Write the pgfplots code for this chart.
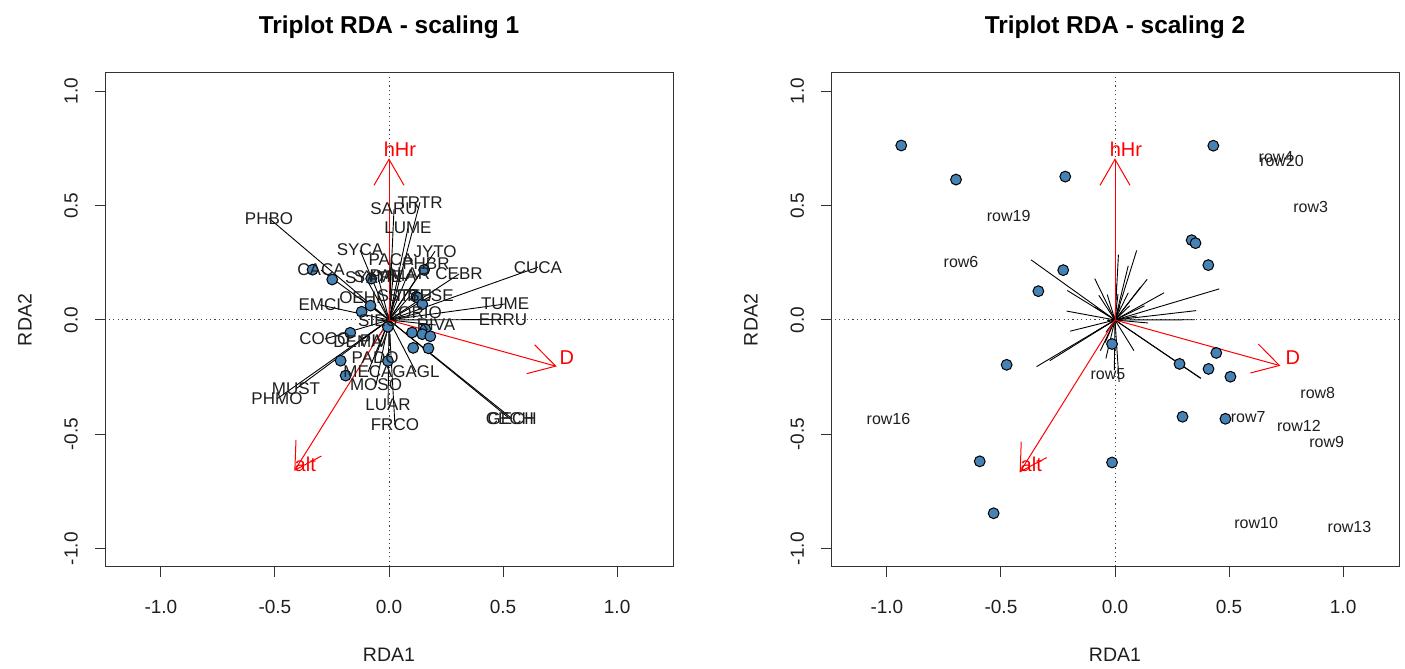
\documentclass[border=0pt]{standalone}
\usepackage{fontspec}
\setmainfont{Liberation Sans}
\usepackage{pgfplots}
\pgfplotsset{compat=1.18}
\usepackage{pgfplotstable}
\usetikzlibrary{arrows.meta}
\definecolor{ptblue}{HTML}{4682B4}
\definecolor{txt}{HTML}{1E1E1E}

% site scores, scaling 1
\pgfplotstableread{
x y
-0.335 0.220
-0.249 0.177
-0.078 0.181
0.154 0.219
0.120 0.101
0.126 0.097
0.146 0.069
-0.081 0.063
-0.120 0.036
-0.005 -0.030
-0.170 -0.056
0.101 -0.055
0.159 -0.041
0.146 -0.062
0.181 -0.071
0.106 -0.122
0.173 -0.124
-0.212 -0.178
-0.005 -0.179
-0.190 -0.243
}\sitesA

% species scores, scaling 1
\pgfplotstableread{
x y lab
-0.526 0.445 PHBO
0.136 0.515 TRTR
0.022 0.485 SARU
0.083 0.402 LUME
-0.127 0.306 SYCA
0.202 0.301 JYTO
0.009 0.262 PACA
0.162 0.245 PHBR
-0.298 0.218 CACA
-0.101 0.183 SYAT
-0.048 0.188 SYME
0.018 0.192 PAMA
0.083 0.201 ALAR
0.307 0.201 CEBR
0.653 0.231 CUCA
-0.303 0.066 EMCI
-0.127 0.096 OEHI
0.031 0.105 SITT
0.092 0.105 STTU
0.184 0.105 SESE
0.509 0.070 TUME
0.500 0.002 ERRU
0.136 0.031 ORIO
-0.048 -0.004 SIEU
0.206 -0.022 RIVA
-0.281 -0.083 COCO
-0.136 -0.096 DEMA
-0.057 -0.092 PIVI
-0.061 -0.166 PADO
-0.092 -0.227 MECA
0.118 -0.227 GAGL
-0.057 -0.284 MOSO
-0.004 -0.371 LUAR
0.026 -0.459 FRCO
-0.408 -0.301 MUST
-0.491 -0.345 PHMO
0.540 -0.432 GECH
0.530 -0.432 CECH
}\speciesA

% site scores, scaling 2
\pgfplotstableread{
x y
-0.937 0.763
-0.697 0.614
-0.218 0.627
0.431 0.762
0.336 0.349
0.353 0.336
0.409 0.240
-0.227 0.218
-0.336 0.126
-0.013 -0.105
-0.475 -0.196
0.283 -0.192
0.444 -0.144
0.410 -0.214
0.506 -0.248
0.296 -0.423
0.484 -0.432
-0.593 -0.618
-0.013 -0.623
-0.532 -0.845
}\sitesB

% species scores, scaling 2
\pgfplotstableread{
x y
-0.368 0.263
0.095 0.304
0.015 0.286
0.058 0.237
-0.089 0.181
0.141 0.178
0.006 0.155
0.113 0.145
-0.209 0.129
-0.071 0.108
-0.034 0.111
0.013 0.113
0.058 0.119
0.215 0.119
0.457 0.136
-0.212 0.039
-0.089 0.057
0.022 0.062
0.064 0.062
0.129 0.062
0.356 0.041
0.350 0.001
0.095 0.018
-0.034 -0.002
0.144 -0.013
-0.197 -0.049
-0.095 -0.057
-0.040 -0.054
-0.043 -0.098
-0.064 -0.134
0.083 -0.134
-0.040 -0.168
-0.003 -0.219
0.018 -0.271
-0.286 -0.178
-0.344 -0.204
0.375 -0.255
0.377 -0.255
}\speciesB

% site labels, scaling 2
\pgfplotstableread{
x y lab
0.706 0.714 row4
0.732 0.697 row20
0.858 0.492 row3
-0.466 0.453 row19
-0.675 0.253 row6
-0.031 -0.235 row5
-0.993 -0.432 row16
0.584 -0.423 row7
0.889 -0.318 row8
0.806 -0.462 row12
0.928 -0.532 row9
0.619 -0.889 row10
1.028 -0.906 row13
}\rowlabs

% constraining variables
\pgfplotstableread{
x y lab
0.048 0.745 hHr
0.780 -0.163 D
-0.367 -0.632 alt
}\envlabs

\pgfplotsset{
  rdabox/.style={
    scale only axis, width=284pt, height=247pt,
    xmin=-1.245, xmax=1.245, ymin=-1.08, ymax=1.08,
    xtick={-1,-0.5,0,0.5,1}, xticklabels={-1.0,-0.5,0.0,0.5,1.0},
    ytick={-1,-0.5,0,0.5,1}, yticklabels={-1.0,-0.5,0.0,0.5,1.0},
    tick align=outside, major tick length=5pt,
    xtick pos=bottom, ytick pos=left,
    tick style={black!80, line width=0.5pt},
    axis line style={black!80, line width=0.5pt},
    tick label style={font=\fontsize{9.5}{11}\selectfont, text=txt},
    xticklabel style={yshift=-8pt},
    yticklabel style={xshift=-5pt, rotate=90, anchor=south},
    label style={font=\fontsize{9.75}{12}\selectfont, text=txt},
    xlabel={RDA1}, ylabel={RDA2},
    xlabel style={at={(axis description cs:0.5,-0.178)}, anchor=center},
    ylabel style={at={(axis description cs:-0.141,0.5)}, anchor=center},
    every axis title/.style={at={(axis description cs:0.5,1.093)}, anchor=center,
                 font=\bfseries\fontsize{12.2}{14}\selectfont},
  },
  zeroline/.style={black!75, line width=0.5pt, dash pattern=on 0.6pt off 1.6pt},
  sitept/.style={only marks, mark=*, mark size=2.7pt,
                 mark options={fill=ptblue, draw=black, line width=0.5pt}},
  spline/.style={black, line width=0.45pt, quiver={u=\thisrow{x}, v=\thisrow{y}}},
  envarrow/.style={red, line width=0.5pt, -{Straight Barb[length=13pt, width=15pt]}},
  txtlab/.style={only marks, mark=none, nodes near coords, point meta=explicit symbolic,
                 every node near coord/.append style={anchor=center, inner sep=0pt, #1}},
}

\begin{document}
\begin{tikzpicture}
\useasboundingbox (0,0) rectangle (702.5pt,334.5pt);

\begin{axis}[rdabox, at={(52.5pt,51pt)}, anchor=south west,
  title={Triplot RDA - scaling 1}]
\addplot[zeroline] coordinates {(-2,0) (2,0)};
\addplot[zeroline] coordinates {(0,-2) (0,2)};
\addplot[sitept] table {\sitesA};
\addplot[spline] table[x expr=0, y expr=0] {\speciesA};
\addplot[txtlab={font=\fontsize{8.5}{10}\selectfont, text=txt}] table[meta=lab] {\speciesA};
\addplot[envarrow] coordinates {(0,0) (0,0.707)};
\addplot[envarrow] coordinates {(0,0) (0.735,-0.203)};
\addplot[envarrow] coordinates {(0,0) (-0.415,-0.66)};
\addplot[txtlab={font=\fontsize{10}{12}\selectfont, text=red}] table[meta=lab] {\envlabs};
\end{axis}

\begin{axis}[rdabox, at={(415.5pt,51pt)}, anchor=south west,
  title={Triplot RDA - scaling 2}]
\addplot[zeroline] coordinates {(-2,0) (2,0)};
\addplot[zeroline] coordinates {(0,-2) (0,2)};
\addplot[sitept] table {\sitesB};
\addplot[txtlab={font=\fontsize{8}{10}\selectfont, text=txt}] table[meta=lab] {\rowlabs};
\addplot[spline] table[x expr=0, y expr=0] {\speciesB};
\addplot[envarrow] coordinates {(0,0) (0,0.707)};
\addplot[envarrow] coordinates {(0,0) (0.725,-0.200)};
\addplot[envarrow] coordinates {(0,0) (-0.418,-0.667)};
\addplot[txtlab={font=\fontsize{10}{12}\selectfont, text=red}] table[meta=lab] {\envlabs};
\end{axis}
\end{tikzpicture}
\end{document}
